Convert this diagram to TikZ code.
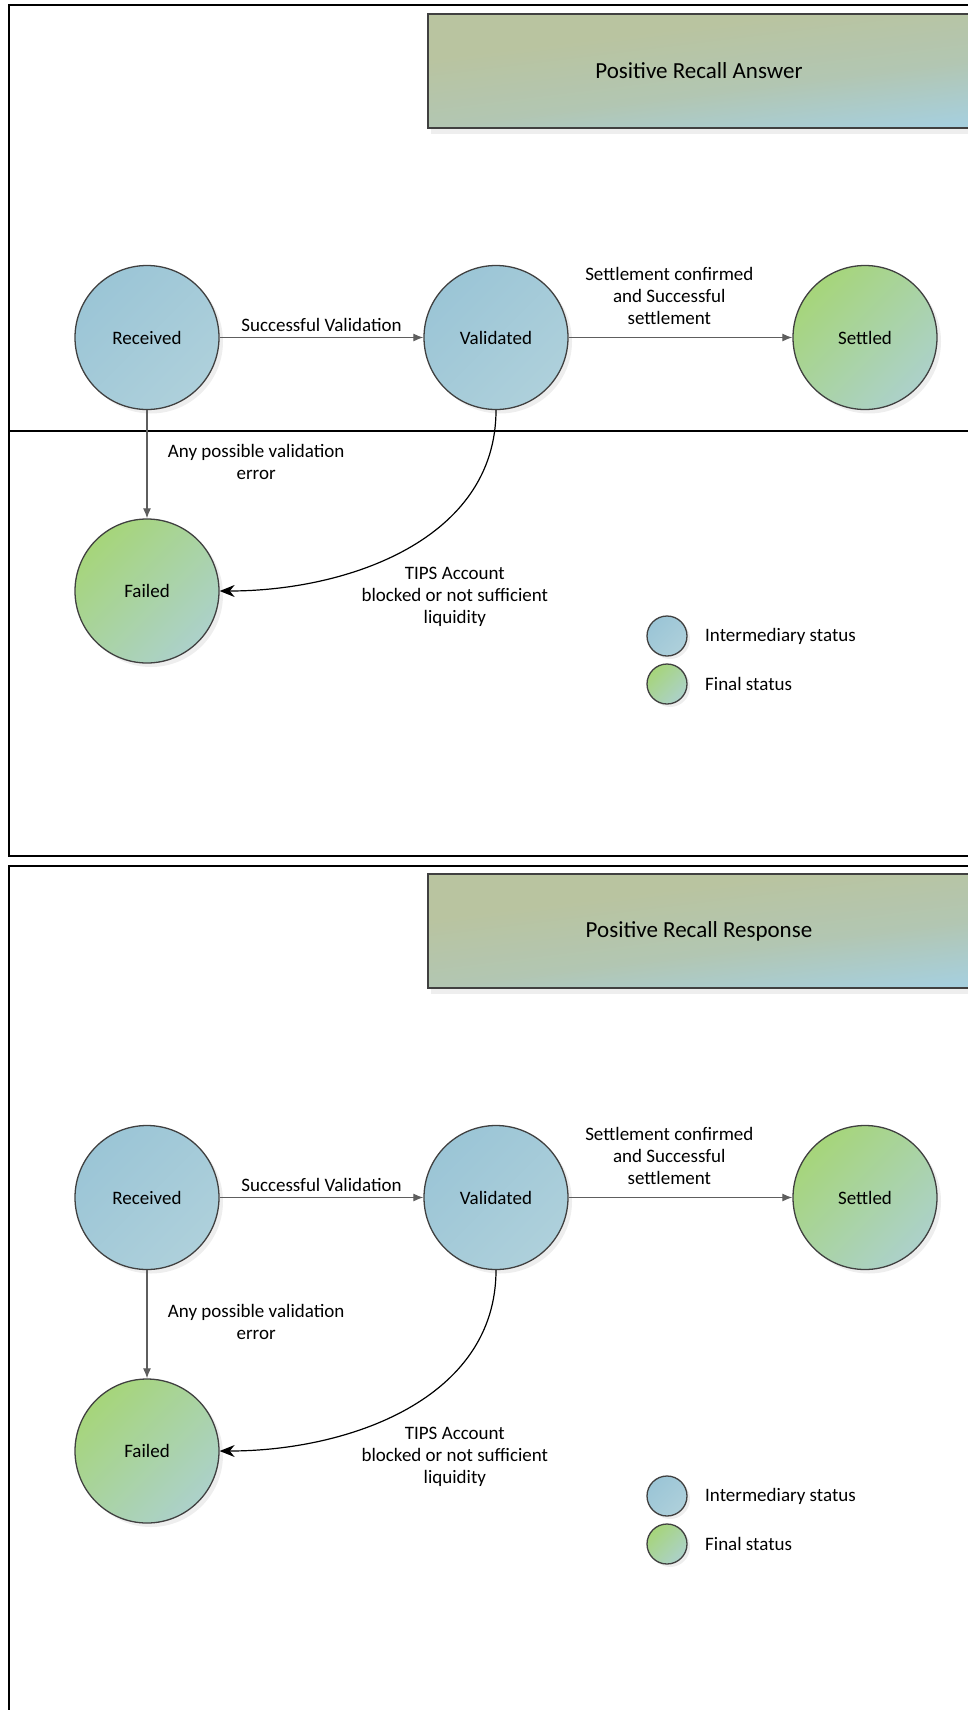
\documentclass[tikz,border=0pt]{standalone}
\usepackage{fontspec}
\setmainfont{Carlito}
\usetikzlibrary{arrows.meta,automata,shadows,positioning}

\definecolor{bluetl}{HTML}{9BC5D6}
\definecolor{bluebr}{HTML}{AED0DB}
\definecolor{greentl}{HTML}{A6D57A}
\definecolor{greenbr}{HTML}{ACD1CA}
\definecolor{titletl}{HTML}{B9C4A0}
\definecolor{titlemid}{HTML}{B2C6B2}
\definecolor{titlebr}{HTML}{A6CFDD}
\definecolor{edgegray}{HTML}{5E5E5E}
\definecolor{rimgray}{HTML}{404040}

\pgfdeclareverticalshading{bannershade}{100bp}{color(0bp)=(titlebr); color(24bp)=(titlebr);
  color(43bp)=(titlemid); color(64bp)=(titletl); color(100bp)=(titletl)}

\begin{document}
\begin{tikzpicture}[x=1pt,y=-1pt,->,>={Latex[length=10pt,width=8pt]},auto,
                    font=\fontsize{19}{22}\selectfont]

  \tikzstyle{every state}=[circle,draw=rimgray,line width=1.3pt,minimum size=144pt,
                           drop shadow={shadow xshift=4pt,shadow yshift=-4pt,fill=black!13}]
  \tikzstyle{interm}=[top color=bluetl,bottom color=bluebr,shading angle=45]
  \tikzstyle{final}=[top color=greentl,bottom color=greenbr,shading angle=45]
  \tikzstyle{banner}=[draw=rimgray,line width=1.3pt,minimum width=542pt,minimum height=114pt,
                      shading=bannershade,shading angle=7,
                      drop shadow={shadow xshift=3pt,shadow yshift=-6pt,fill=black!13},
                      font=\fontsize{23}{27}\selectfont]
  \tikzstyle{legend}=[circle,draw=rimgray,line width=1.3pt,minimum size=40pt,
                      drop shadow={shadow xshift=3pt,shadow yshift=-3pt,fill=black!13}]
  \tikzstyle{move}=[draw=edgegray,line width=1.2pt]
  \tikzstyle{cut}=[-{Stealth[length=15pt,width=12pt]},draw=black,line width=1.2pt]
  \tikzstyle{frame}=[-,line width=2.3pt]

  \clip (0,0) rectangle (968,1710);
  \draw[frame] (9,5) rectangle (990,856);
  \draw[frame] (9,431) -- (990,431);
  \draw[frame] (9,866) rectangle (990,1730);

  % Positive Recall Answer
  \node[banner] (TTL1) at (699,71) {Positive Recall Answer};

  \node[state,interm] (REC1) at (147,337.5)                         {Received};
  \node[state,interm] (VAL1) [right of=REC1,node distance=349pt]    {Validated};
  \node[state,final]  (SET1) [right of=VAL1,node distance=369pt]    {Settled};
  \node[state,final]  (FAI1) [below of=REC1,node distance=253.5pt]  {Failed};

  \node[legend,interm] (LGI1) at (667,636) {};
  \node[legend,final]  (LGF1) at (667,684) {};
  \node (LGIT1) [right=14pt of LGI1] {Intermediary status};
  \node (LGFT1) [right=14pt of LGF1] {Final status};

  \path
  (REC1) edge [move]            node [yshift=2pt] {Successful Validation} (VAL1)
  (VAL1) edge [move]            node [align=center,pos=0.45,yshift=9pt]
                                     {Settlement confirmed\\and Successful\\settlement} (SET1)
  (REC1) edge [move]            node [align=center,xshift=17pt,yshift=2pt]
                                     {Any possible validation\\error} (FAI1)
  (VAL1) edge [cut,out=270,in=0] node [align=center,anchor=center,pos=0.8,xshift=157pt,yshift=-12.5pt]
                                     {TIPS Account\\blocked or not sufficient\\liquidity} (FAI1)
  ;

  % Positive Recall Response
  \node[banner] (TTL2) at (699,931) {Positive Recall Response};

  \node[state,interm] (REC2) at (147,1197.5)                        {Received};
  \node[state,interm] (VAL2) [right of=REC2,node distance=349pt]    {Validated};
  \node[state,final]  (SET2) [right of=VAL2,node distance=369pt]    {Settled};
  \node[state,final]  (FAI2) [below of=REC2,node distance=253.5pt]  {Failed};

  \node[legend,interm] (LGI2) at (667,1496) {};
  \node[legend,final]  (LGF2) at (667,1544) {};
  \node (LGIT2) [right=14pt of LGI2] {Intermediary status};
  \node (LGFT2) [right=14pt of LGF2] {Final status};

  \path
  (REC2) edge [move]            node [yshift=2pt] {Successful Validation} (VAL2)
  (VAL2) edge [move]            node [align=center,pos=0.45,yshift=9pt]
                                     {Settlement confirmed\\and Successful\\settlement} (SET2)
  (REC2) edge [move]            node [align=center,xshift=17pt,yshift=2pt]
                                     {Any possible validation\\error} (FAI2)
  (VAL2) edge [cut,out=270,in=0] node [align=center,anchor=center,pos=0.8,xshift=157pt,yshift=-12.5pt]
                                     {TIPS Account\\blocked or not sufficient\\liquidity} (FAI2)
  ;
\end{tikzpicture}
\end{document}
